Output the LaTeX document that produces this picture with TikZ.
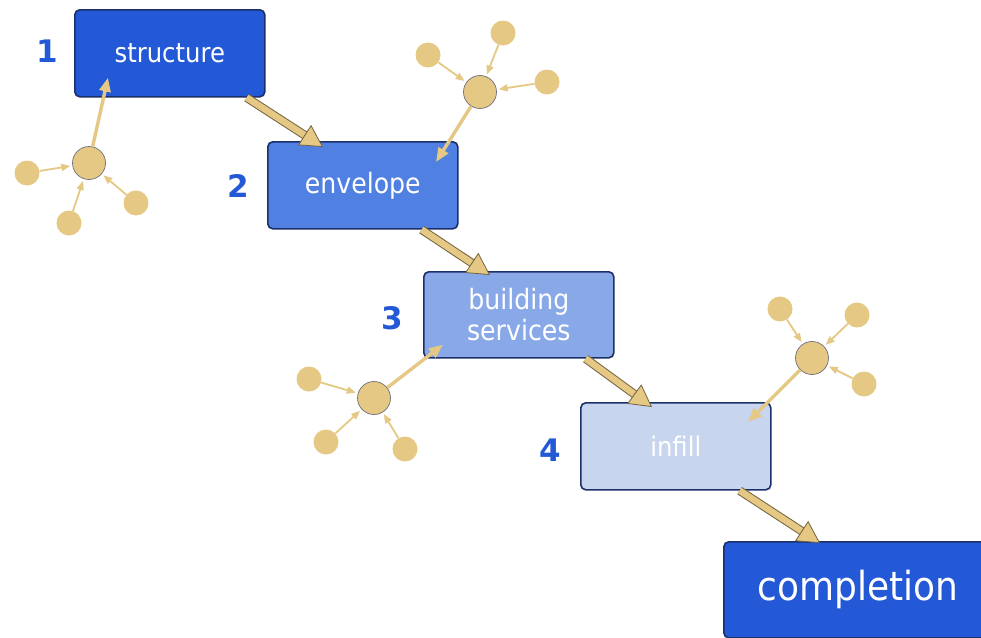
\documentclass[tikz,border=0pt]{standalone}
\usepackage{fontspec}
\setmainfont{DejaVu Sans}[FakeStretch=0.9]
\newfontfamily\numfont{DejaVu Sans Bold}
\usetikzlibrary{arrows.meta,calc}
\definecolor{blueA}{RGB}{35,88,214}
\definecolor{blueB}{RGB}{80,128,225}
\definecolor{blueC}{RGB}{137,168,232}
\definecolor{blueD}{RGB}{200,213,238}
\definecolor{navy}{RGB}{28,48,105}
\definecolor{numblue}{RGB}{35,88,214}
\definecolor{tan}{RGB}{229,200,132}
\definecolor{hubgray}{RGB}{110,110,125}
\definecolor{arrline}{RGB}{115,100,65}
\tikzset{
 box/.style={draw=navy, line width=1.6pt, rounded corners=5pt, text=white, minimum width=190pt, minimum height=87pt, anchor=north west, align=center, inner sep=0pt},
 num/.style={text=numblue, font=\numfont\fontsize{31}{31}\selectfont},
 hub/.style={circle, fill=tan, draw=hubgray, line width=0.7pt, minimum size=33pt, inner sep=0pt},
 sat/.style={circle, fill=tan, minimum size=25pt, inner sep=0pt},
 feed/.style={draw=tan, line width=1.8pt, -{Triangle[length=9pt,width=7pt]}, shorten >=2pt},
 push/.style={draw=tan, line width=3.4pt, -{Triangle[length=14pt,width=11pt]}},
 bigout/.style={draw=arrline, line width=8.6pt, shorten >=19pt},
 bigin/.style={draw=tan, line width=6.6pt, -{Triangle[length=22pt,width=24pt,fill=tan,color=arrline,line width=0.8pt]}},
}
\begin{document}
\begin{tikzpicture}[x=1pt,y=-1pt]
\useasboundingbox[fill=white] (0,0) rectangle (981,637);
% boxes
\node[box, fill=blueA, font=\fontsize{27}{30}\selectfont] (s) at (74,9) {structure};
\node[box, fill=blueB, font=\fontsize{28}{31}\selectfont] (e) at (267,141) {envelope};
\node[box, fill=blueC, font=\fontsize{28}{31}\selectfont, minimum height=86pt] (b) at (423,271) {building\\services};
\node[box, fill=blueD, font=\fontsize{27}{30}\selectfont] (i) at (580,402) {infill};
\node[box, fill=blueA, font=\fontsize{40}{44}\selectfont, minimum width=268pt, minimum height=96pt] (c) at (723,541) {completion};
% numbers
\node[num] (n1) at (47,51) {1};
\node[num] (n2) at (238,186) {2};
\node[num] (n3) at (392,318) {3};
\node[num] (n4) at (550,450) {4};
% big arrows
\coordinate (a1s) at ($(s.south east)+(-19,0)$);
\coordinate (a1e) at ($(e.north west)+(56,6)$);
\coordinate (a2s) at ($(e.south east)+(-37,0)$);
\coordinate (a2e) at ($(b.north west)+(67,4)$);
\coordinate (a3s) at ($(b.south east)+(-29,0)$);
\coordinate (a3e) at ($(i.north west)+(72,5)$);
\coordinate (a4s) at ($(i.south east)+(-32,0)$);
\coordinate (a4e) at ($(c.north west)+(97,2)$);
\foreach \p in {1,2,3,4}{
  \draw[bigout] (a\p s) -- (a\p e);
  \draw[bigin] (a\p s) -- (a\p e);
}
% cluster 1
\node[hub] (h1) at (89,163) {};
\node[sat] (h1a) at (27,173) {};
\node[sat] (h1b) at (69,223) {};
\node[sat] (h1c) at (136,203) {};
\coordinate (t1) at ($(s.south west)+(34,-20)$);
\draw[feed] (h1a) -- (h1);
\draw[feed] (h1b) -- (h1);
\draw[feed] (h1c) -- (h1);
\draw[push] (h1) -- (t1);
% cluster 2
\node[hub] (h2) at (480,92) {};
\node[sat] (h2a) at (428,55) {};
\node[sat] (h2b) at (503,33) {};
\node[sat] (h2c) at (547,82) {};
\coordinate (t2) at ($(e.north west)+(169,21)$);
\draw[feed] (h2a) -- (h2);
\draw[feed] (h2b) -- (h2);
\draw[feed] (h2c) -- (h2);
\draw[push] (h2) -- (t2);
% cluster 3
\node[hub] (h3) at (374,398) {};
\node[sat] (h3a) at (309,379) {};
\node[sat] (h3b) at (326,442) {};
\node[sat] (h3c) at (405,449) {};
\coordinate (t3) at ($(b.south west)+(20,-14)$);
\draw[feed] (h3a) -- (h3);
\draw[feed] (h3b) -- (h3);
\draw[feed] (h3c) -- (h3);
\draw[push] (h3) -- (t3);
% cluster 4
\node[hub] (h4) at (812,358) {};
\node[sat] (h4a) at (780,309) {};
\node[sat] (h4b) at (857,315) {};
\node[sat] (h4c) at (864,384) {};
\coordinate (t4) at ($(i.north west)+(168,20)$);
\draw[feed] (h4a) -- (h4);
\draw[feed] (h4b) -- (h4);
\draw[feed] (h4c) -- (h4);
\draw[push] (h4) -- (t4);
\end{tikzpicture}
\end{document}
